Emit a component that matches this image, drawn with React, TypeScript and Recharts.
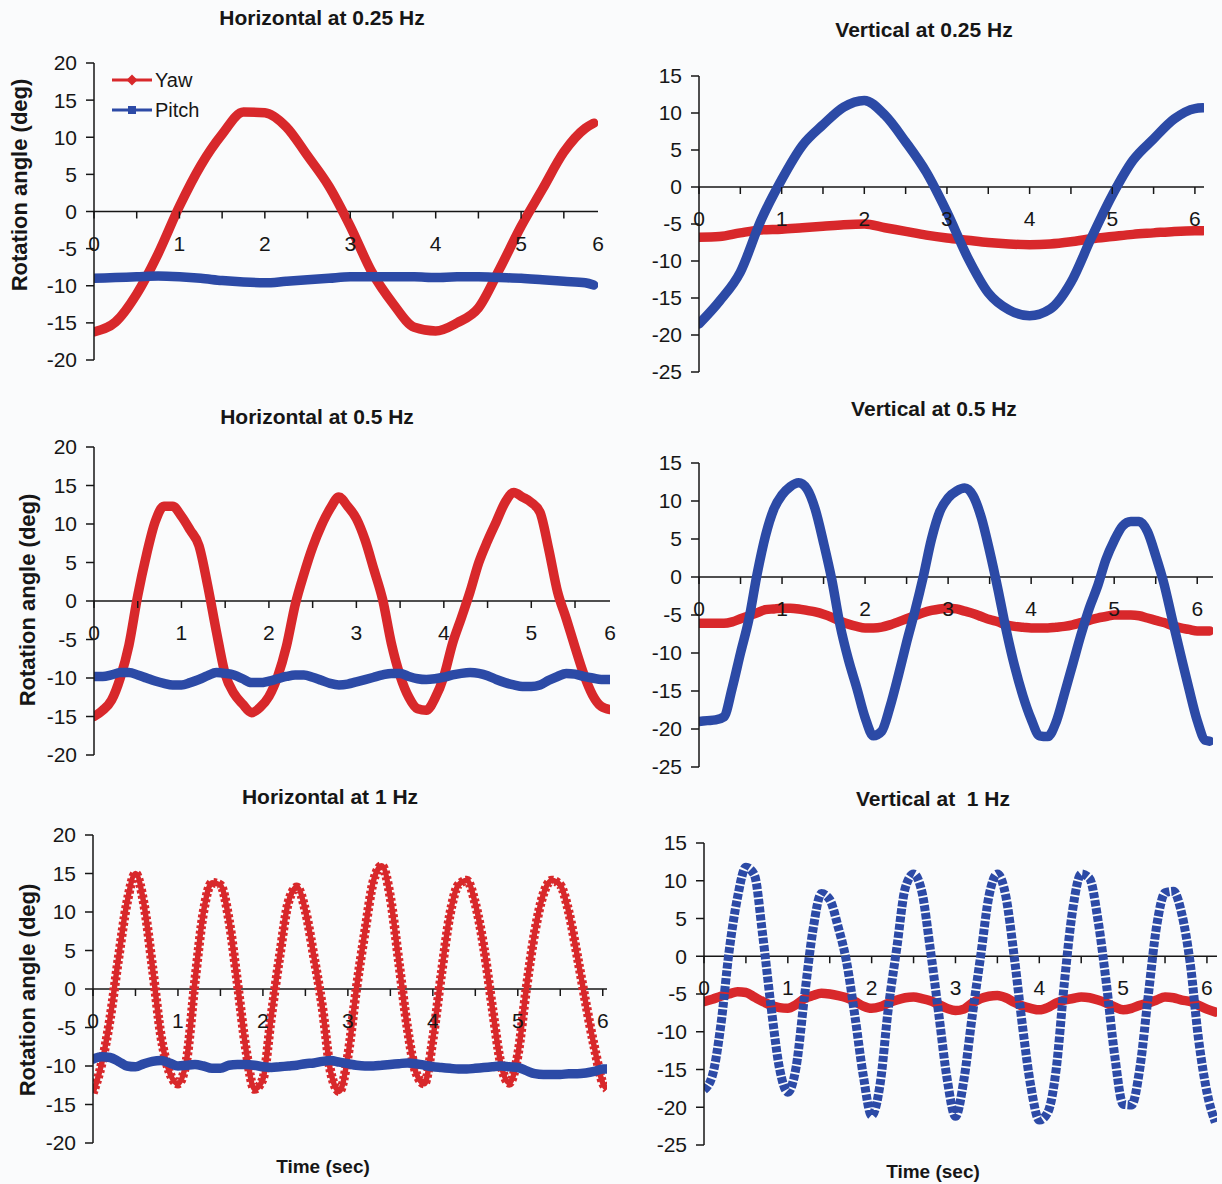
import React from 'react'
import { LineChart, Line, XAxis, YAxis, ReferenceLine } from 'recharts'

const RED = '#d8282b'
const BLUE = '#2c4aa6'
const INK = '#161616'
const FONT = '"Liberation Sans", Arial, sans-serif'

// ---- Horizontal at 0.25 Hz ----
const h025Time = [0, 0.25, 0.5, 0.75, 1, 1.25, 1.5, 1.75, 2, 2.25, 2.5, 2.75, 3, 3.25, 3.5, 3.75, 4, 4.25, 4.5, 4.75, 5, 5.25, 5.5, 5.75, 5.85]
const h025Yaw = [-16.2, -14.9, -11.1, -5.7, 0.7, 6.2, 10.4, 13.4, 13.3, 11.4, 7.5, 3.4, -2.0, -8.1, -12.4, -15.6, -16.1, -15.0, -13.0, -7.7, -2.0, 3.0, 8.0, 11.2, 11.9]
const h025Pitch = [-9.0, -8.9, -8.8, -8.7, -8.8, -9.0, -9.3, -9.5, -9.6, -9.4, -9.2, -9.0, -8.8, -8.8, -8.8, -8.8, -8.9, -8.8, -8.8, -8.9, -9.0, -9.2, -9.4, -9.6, -9.9]

// ---- Vertical at 0.25 Hz ----
const v025Time = [0, 0.25, 0.5, 0.75, 1, 1.25, 1.5, 1.75, 2, 2.25, 2.5, 2.75, 3, 3.25, 3.5, 3.75, 4, 4.25, 4.5, 4.75, 5, 5.25, 5.5, 5.75, 6, 6.1]
const v025Yaw = [-6.8, -6.7, -6.2, -5.8, -5.7, -5.5, -5.3, -5.1, -5.0, -5.5, -6.0, -6.5, -6.9, -7.2, -7.5, -7.7, -7.8, -7.7, -7.4, -7.0, -6.7, -6.4, -6.2, -6.0, -5.9, -5.9]
const v025Pitch = [-18.5, -15.4, -11.5, -4.5, 1.0, 5.6, 8.4, 10.8, 11.7, 9.7, 6.1, 2.0, -3.4, -9.5, -14.3, -16.6, -17.4, -16.5, -12.9, -6.8, -1.1, 3.6, 6.5, 9.2, 10.6, 10.7]

// ---- Horizontal at 0.5 Hz ----
const h05Time = [
  0, 0.1, 0.2, 0.3, 0.4, 0.5, 0.6, 0.7, 0.8, 0.9, 1, 1.1, 1.2, 1.3, 1.4, 1.5, 1.6, 1.7, 1.8, 1.9,
  2, 2.1, 2.2, 2.3, 2.4, 2.5, 2.6, 2.7, 2.8, 2.9, 3, 3.1, 3.2, 3.3, 3.4, 3.5, 3.6, 3.7, 3.8, 3.9,
  4, 4.1, 4.2, 4.3, 4.4, 4.5, 4.6, 4.7, 4.8, 4.9, 5, 5.1, 5.2, 5.3, 5.4, 5.5, 5.6, 5.7, 5.8, 5.9,
]
const h05Yaw = [
  -15.0, -14.2, -12.9, -10.0, -5.7, 0.7, 6.0, 10.3, 12.3, 12.3,
  11.0, 9.2, 7.2, 2.0, -4.0, -9.5, -12.0, -13.4, -14.5, -13.8,
  -12.4, -9.8, -5.9, -0.5, 3.5, 7.0, 9.8, 12.0, 13.5, 12.3,
  10.7, 7.9, 4.1, 0.2, -5.5, -9.7, -12.5, -14.0, -14.2, -12.6,
  -9.8, -5.5, -2.2, 1.2, 5.0, 7.8, 10.3, 12.8, 14.1, 13.5,
  12.8, 11.5, 6.7, 1.2, -2.3, -6.0, -9.5, -12.2, -13.7, -14.1,
]
const h05Pitch = [
  -9.8, -9.8, -9.6, -9.3, -9.3, -9.6, -10.0, -10.4, -10.7, -10.9,
  -10.9, -10.6, -10.2, -9.7, -9.3, -9.4, -9.6, -10.1, -10.6, -10.6,
  -10.4, -10.1, -9.8, -9.6, -9.6, -9.9, -10.3, -10.7, -10.9, -10.8,
  -10.5, -10.2, -9.9, -9.6, -9.4, -9.4, -9.8, -10.1, -10.2, -10.1,
  -9.9, -9.6, -9.4, -9.3, -9.4, -9.7, -10.2, -10.6, -10.9, -11.1,
  -11.1, -10.9, -10.3, -9.8, -9.4, -9.5, -9.8, -10.0, -10.2, -10.2,
]

// ---- Vertical at 0.5 Hz ----
const v05Time = [
  0, 0.1, 0.2, 0.3, 0.4, 0.5, 0.6, 0.7, 0.8, 0.9, 1, 1.1, 1.2, 1.3, 1.4, 1.5, 1.6, 1.7, 1.8, 1.9,
  2, 2.1, 2.2, 2.3, 2.4, 2.5, 2.6, 2.7, 2.8, 2.9, 3, 3.1, 3.2, 3.3, 3.4, 3.5, 3.6, 3.7, 3.8, 3.9,
  4, 4.1, 4.2, 4.3, 4.4, 4.5, 4.6, 4.7, 4.8, 4.9, 5, 5.1, 5.2, 5.3, 5.4, 5.5, 5.6, 5.7, 5.8, 5.9,
  6, 6.1, 6.15,
]
const v05Yaw = [
  -6.1, -6.1, -6.1, -6.1, -5.9, -5.5, -5.1, -4.7, -4.3, -4.2,
  -4.1, -4.1, -4.2, -4.4, -4.6, -4.9, -5.3, -5.8, -6.2, -6.5,
  -6.7, -6.7, -6.6, -6.3, -5.9, -5.5, -5.1, -4.7, -4.4, -4.2,
  -4.1, -4.2, -4.5, -4.8, -5.2, -5.6, -5.9, -6.3, -6.5, -6.6,
  -6.7, -6.7, -6.7, -6.6, -6.5, -6.3, -6.0, -5.7, -5.4, -5.2,
  -5.0, -5.0, -5.0, -5.1, -5.4, -5.7, -6.0, -6.4, -6.7, -6.9,
  -7.1, -7.1, -7.1,
]
const v05Pitch = [
  -19.0, -18.9, -18.8, -18.4, -14.6, -10.0, -5.6, 0.4, 5.4, 8.9,
  10.8, 11.9, 12.4, 11.6, 8.9, 4.5, -0.4, -6.4, -10.9, -14.6,
  -18.5, -20.9, -20.3, -17.1, -13.0, -8.6, -4.5, 0.0, 5.0, 8.6,
  10.4, 11.3, 11.7, 10.7, 7.8, 3.4, -1.6, -7.0, -11.7, -15.6,
  -18.7, -20.9, -21.0, -19.1, -15.4, -11.5, -7.6, -4.1, -1.2, 2.3,
  4.8, 6.7, 7.3, 7.3, 6.0, 2.8, -0.9, -5.6, -10.2, -14.7,
  -18.9, -21.5, -21.6,
]

// ---- Horizontal at 1 Hz ----
const h1Time = [
  0, 0.1, 0.2, 0.3, 0.4, 0.5, 0.6, 0.7, 0.8, 0.9, 1, 1.1, 1.2, 1.3, 1.4, 1.5, 1.6, 1.7, 1.8, 1.9,
  2, 2.1, 2.2, 2.3, 2.4, 2.5, 2.6, 2.7, 2.8, 2.9, 3, 3.1, 3.2, 3.3, 3.4, 3.5, 3.6, 3.7, 3.8, 3.9,
  4, 4.1, 4.2, 4.3, 4.4, 4.5, 4.6, 4.7, 4.8, 4.9, 5, 5.1, 5.2, 5.3, 5.4, 5.5, 5.6, 5.7, 5.8, 5.9,
  6, 6.05,
]
const h1Yaw = [
  -13.5, -9.8, -3.9, 4.0, 11.2, 15.0, 11.0, 2.8, -6.1, -10.8,
  -12.3, -9.3, 1.0, 10.0, 13.8, 13.5, 9.0, 0.8, -7.8, -13.0,
  -11.7, -3.4, 4.5, 11.3, 13.2, 10.2, 4.2, -2.4, -10.9, -13.3,
  -8.7, 0.0, 7.4, 14.0, 16.0, 11.9, 3.5, -5.0, -10.8, -12.3,
  -6.5, 1.9, 9.6, 13.5, 14.1, 11.1, 5.4, -2.4, -9.7, -12.2,
  -8.6, 0.0, 7.4, 12.3, 14.1, 13.5, 10.0, 4.3, -1.8, -7.5,
  -12.2, -13.0,
]
const h1Pitch = [
  -9.1, -8.8, -8.9, -9.4, -10.0, -10.1, -9.7, -9.4, -9.3, -9.6,
  -10.0, -9.9, -9.8, -10.0, -10.3, -10.3, -9.9, -9.8, -9.8, -9.9,
  -10.1, -10.2, -10.1, -10.0, -9.9, -9.7, -9.6, -9.4, -9.3, -9.5,
  -9.7, -9.9, -10.0, -10.0, -9.9, -9.8, -9.7, -9.6, -9.7, -9.9,
  -10.1, -10.2, -10.3, -10.4, -10.4, -10.3, -10.2, -10.1, -10.0, -10.1,
  -10.2, -10.6, -11.0, -11.1, -11.1, -11.1, -11.0, -11.0, -10.9, -10.7,
  -10.4, -10.4,
]

// ---- Vertical at 1 Hz ----
const v1Time = [
  0, 0.1, 0.2, 0.3, 0.4, 0.5, 0.6, 0.7, 0.8, 0.9, 1, 1.1, 1.2, 1.3, 1.4, 1.5, 1.6, 1.7, 1.8, 1.9,
  2, 2.1, 2.2, 2.3, 2.4, 2.5, 2.6, 2.7, 2.8, 2.9, 3, 3.1, 3.2, 3.3, 3.4, 3.5, 3.6, 3.7, 3.8, 3.9,
  4, 4.1, 4.2, 4.3, 4.4, 4.5, 4.6, 4.7, 4.8, 4.9, 5, 5.1, 5.2, 5.3, 5.4, 5.5, 5.6, 5.7, 5.8, 5.9,
  6, 6.1,
]
const v1Yaw = [
  -6.0, -5.7, -5.3, -5.0, -4.7, -4.8, -5.4, -6.0, -6.5, -6.8,
  -6.9, -6.4, -5.6, -5.2, -4.9, -5.0, -5.2, -5.5, -6.0, -6.6,
  -6.9, -6.7, -6.2, -5.8, -5.5, -5.4, -5.6, -5.9, -6.4, -6.9,
  -7.2, -7.0, -6.2, -5.6, -5.3, -5.2, -5.5, -6.1, -6.6, -6.9,
  -7.1, -6.8, -6.2, -5.8, -5.6, -5.4, -5.5, -5.8, -6.2, -6.7,
  -7.1, -6.9, -6.5, -6.2, -5.8, -5.4, -5.5, -5.8, -6.0, -6.5,
  -7.0, -7.4,
]
const v1Pitch = [
  -17.7, -15.8, -9.2, 0.7, 7.8, 11.8, 10.8, 2.8, -6.7, -14.8,
  -18.0, -14.6, -5.2, 3.5, 8.3, 7.5, 3.9, -0.7, -7.9, -15.8,
  -21.1, -17.0, -6.8, 1.1, 9.0, 10.9, 8.5, 0.9, -7.6, -16.2,
  -21.2, -16.4, -7.9, 0.0, 8.0, 10.9, 8.0, 0.0, -9.3, -17.3,
  -21.7, -20.7, -15.1, -3.4, 6.3, 10.9, 10.3, 4.8, -3.6, -13.2,
  -19.6, -19.7, -14.8, -5.2, 4.0, 8.4, 8.6, 5.6, -0.9, -11.0,
  -18.0, -22.0,
]

const horizTicks = [-20, -15, -10, -5, 0, 5, 10, 15, 20]
const vertTicks = [-25, -20, -15, -10, -5, 0, 5, 10, 15]
const halfSteps = [0, 0.5, 1, 1.5, 2, 2.5, 3, 3.5, 4, 4.5, 5, 5.5, 6]
const legendItems = [
  { name: 'Yaw', color: RED, marker: 'diamond' },
  { name: 'Pitch', color: BLUE, marker: 'square' },
]

const zip = (time: number[], yaw: number[], pitch: number[]) =>
  time.map((t, i) => ({ t, yaw: yaw[i], pitch: pitch[i] }))

// layout
const YW = 70
const MT = 16
const MR = 8
const MB = 16
const TICK_FS = 21

type PanelProps = {
  title: string
  titleX: number
  titleY: number
  pl: number
  pt: number
  pr: number
  pb: number
  xEnd: number
  yTicks: number[]
  data: { t: number; yaw: number; pitch: number }[]
  beaded?: 'yaw' | 'pitch'
  yLabel?: { x: number; y: number }
  xLabel?: { x: number; y: number }
}

function ChartLegend({ left, top }: { left: number; top: number }) {
  return (
    <div style={{ position: 'absolute', left, top, fontFamily: FONT, fontSize: 20, color: INK }}>
      {legendItems.map((e) => (
        <div key={e.name} style={{ display: 'flex', alignItems: 'center', height: 30 }}>
          <svg width={40} height={14}>
            <line x1={0} x2={40} y1={7} y2={7} stroke={e.color} strokeWidth={3} />
            {e.marker === 'diamond' ? (
              <polygon points="20,1.5 25.5,7 20,12.5 14.5,7" fill={e.color} />
            ) : (
              <rect x={16} y={3} width={8} height={8} fill={e.color} />
            )}
          </svg>
          <span style={{ marginLeft: 3 }}>{e.name}</span>
        </div>
      ))}
    </div>
  )
}

function Panel(p: PanelProps) {
  const yMin = p.yTicks[0]
  const yMax = p.yTicks[p.yTicks.length - 1]
  const plotH = p.pb - p.pt
  const zeroOffset = (plotH * (0 - yMin)) / (yMax - yMin)
  const xTicks = halfSteps.filter((v) => v <= p.xEnd + 1e-9)
  if (p.xEnd < 6) xTicks.push(p.xEnd)

  const XTick = (props: any) => {
    const { x, y, payload } = props
    const v = payload.value
    const zy = y - zeroOffset
    const labelOnly = p.xEnd < 6 && Math.abs(v - p.xEnd) < 1e-9
    const isInt = Math.abs(v - Math.round(v)) < 1e-9
    return (
      <g>
        {!labelOnly && <line x1={x} x2={x} y1={zy} y2={zy + 7} stroke={INK} strokeWidth={1.5} />}
        {(isInt || labelOnly) && (
          <text x={x} y={zy + 39} textAnchor="middle" fontSize={TICK_FS} fill={INK} fontFamily={FONT}>
            {labelOnly ? 6 : v}
          </text>
        )}
      </g>
    )
  }

  const width = p.pr - p.pl + YW + MR
  const height = plotH + MT + 1 + MB

  const lineProps = (key: 'yaw' | 'pitch') => ({
    type: 'monotone' as const,
    dataKey: key,
    name: key === 'yaw' ? 'Yaw' : 'Pitch',
    stroke: key === 'yaw' ? RED : BLUE,
    dot: false,
    isAnimationActive: false,
    strokeLinejoin: 'round' as const,
  })

  const seriesFor = (key: 'yaw' | 'pitch') => {
    if (p.beaded === key && key === 'yaw') {
      return [
        <Line key={key + 'a'} {...lineProps(key)} strokeWidth={5.5} />,
        <Line key={key + 'b'} {...lineProps(key)} strokeWidth={9.5} strokeDasharray="3 2.5" />,
      ]
    }
    if (p.beaded === key) {
      return [<Line key={key} {...lineProps(key)} strokeWidth={9} strokeDasharray="6 1.8" />]
    }
    return [<Line key={key} {...lineProps(key)} strokeWidth={9.5} strokeLinecap="round" />]
  }

  const textStyle = {
    position: 'absolute' as const,
    fontFamily: FONT,
    fontWeight: 'bold' as const,
    color: INK,
    whiteSpace: 'pre' as const,
  }

  return (
    <>
      <div style={{ ...textStyle, left: p.titleX, top: p.titleY, transform: 'translate(-50%, -50%)', fontSize: 21 }}>
        {p.title}
      </div>
      {p.yLabel && (
        <div
          style={{
            ...textStyle,
            left: p.yLabel.x,
            top: p.yLabel.y,
            transform: 'translate(-50%, -50%) rotate(-90deg)',
            fontSize: 22,
          }}
        >
          Rotation angle (deg)
        </div>
      )}
      {p.xLabel && (
        <div style={{ ...textStyle, left: p.xLabel.x, top: p.xLabel.y, transform: 'translate(-50%, -50%)', fontSize: 19 }}>
          Time (sec)
        </div>
      )}
      <div style={{ position: 'absolute', left: p.pl - YW, top: p.pt - MT }}>
        <LineChart width={width} height={height} data={p.data} margin={{ top: MT, right: MR, bottom: MB, left: 0 }}>
          <ReferenceLine y={0} stroke={INK} strokeWidth={1.5} />
          <XAxis
            type="number"
            dataKey="t"
            domain={[0, p.xEnd]}
            ticks={xTicks}
            interval={0}
            height={1}
            axisLine={false}
            tickLine={false}
            tickSize={0}
            tickMargin={0}
            tick={XTick}
            allowDataOverflow
          />
          <YAxis
            type="number"
            domain={[yMin, yMax]}
            ticks={p.yTicks}
            interval={0}
            width={YW}
            tickSize={8}
            tickMargin={9}
            axisLine={{ stroke: INK, strokeWidth: 1.5 }}
            tickLine={{ stroke: INK, strokeWidth: 1.5 }}
            tick={{ fill: INK, fontSize: TICK_FS, fontFamily: FONT }}
            allowDataOverflow
          />
          {seriesFor('yaw')}
          {seriesFor('pitch')}
        </LineChart>
      </div>
    </>
  )
}

export default function App() {
  return (
    <div
      style={{
        position: 'absolute',
        left: 0,
        top: 0,
        width: 1222,
        height: 1184,
        overflow: 'hidden',
        background: '#fafbfc',
      }}
    >
      <Panel
        title="Horizontal at 0.25 Hz"
        titleX={322}
        titleY={18}
        pl={94}
        pt={63}
        pr={598}
        pb={360}
        xEnd={5.9}
        yTicks={horizTicks}
        data={zip(h025Time, h025Yaw, h025Pitch)}
        yLabel={{ x: 20, y: 185 }}
      />
      <ChartLegend left={112} top={65} />
      <Panel
        title="Vertical at 0.25 Hz"
        titleX={924}
        titleY={30}
        pl={699}
        pt={76}
        pr={1204}
        pb={372}
        xEnd={6.11}
        yTicks={vertTicks}
        data={zip(v025Time, v025Yaw, v025Pitch)}
      />
      <Panel
        title="Horizontal at 0.5 Hz"
        titleX={317}
        titleY={417}
        pl={94}
        pt={447}
        pr={610}
        pb={755}
        xEnd={5.9}
        yTicks={horizTicks}
        data={zip(h05Time, h05Yaw, h05Pitch)}
        yLabel={{ x: 28, y: 600 }}
      />
      <Panel
        title="Vertical at 0.5 Hz"
        titleX={934}
        titleY={409}
        pl={699}
        pt={463}
        pr={1213}
        pb={767}
        xEnd={6.19}
        yTicks={vertTicks}
        data={zip(v05Time, v05Yaw, v05Pitch)}
      />
      <Panel
        title="Horizontal at 1 Hz"
        titleX={330}
        titleY={797}
        pl={93}
        pt={835}
        pr={607}
        pb={1143}
        xEnd={6.05}
        yTicks={horizTicks}
        data={zip(h1Time, h1Yaw, h1Pitch)}
        beaded="yaw"
        yLabel={{ x: 28, y: 990 }}
        xLabel={{ x: 323, y: 1167 }}
      />
      <Panel
        title="Vertical at  1 Hz"
        titleX={933}
        titleY={799}
        pl={704}
        pt={843}
        pr={1217}
        pb={1145}
        xEnd={6.12}
        yTicks={vertTicks}
        data={zip(v1Time, v1Yaw, v1Pitch)}
        beaded="pitch"
        xLabel={{ x: 933, y: 1172 }}
      />
    </div>
  )
}
